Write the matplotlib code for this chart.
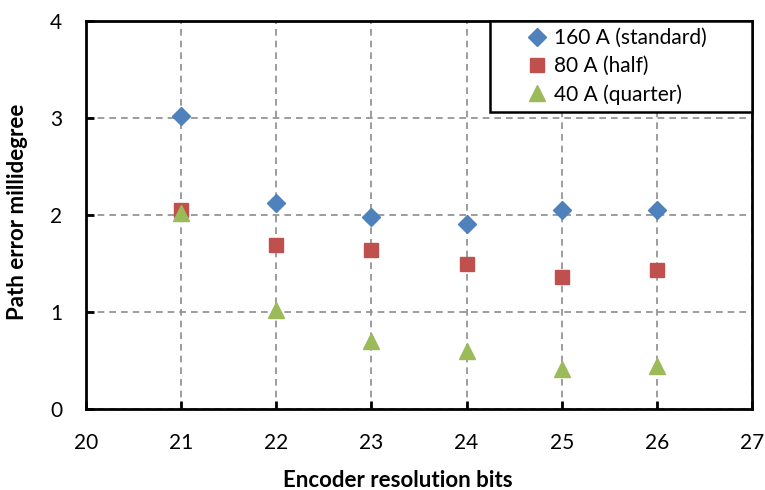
import matplotlib
matplotlib.use("Agg")
import matplotlib.pyplot as plt

plt.rcParams['font.family'] = ['Lato', 'DejaVu Sans']

bits = [21, 22, 23, 24, 25, 26]
err_160 = [3.02, 2.12, 1.98, 1.91, 2.05, 2.05]
err_80 = [2.05, 1.69, 1.64, 1.50, 1.36, 1.43]
err_40 = [2.02, 1.02, 0.70, 0.60, 0.41, 0.44]
labels = ['160 A (standard)', '80 A (half)', '40 A (quarter)']

fig = plt.figure(figsize=(7.65, 4.9), dpi=100)
# axes box: x 86..752 px, y 21..409 px
ax = fig.add_axes([86 / 765, 1 - 409 / 490, 666 / 765, 388 / 490])

ax.plot(bits, err_160, 'D', color='#4F81BD', ms=9, mec='#4F81BD', label=labels[0], zorder=3)
ax.plot(bits, err_80, 's', color='#C0504D', ms=10, mec='#C0504D', label=labels[1], zorder=3)
ax.plot(bits, err_40, '^', color='#9BBB59', ms=12, mec='#9BBB59', label=labels[2], zorder=4)

ax.set_xlim(20, 27)
ax.set_ylim(0, 4)
ax.set_xticks(range(20, 28))
ax.set_yticks(range(0, 5))
ax.grid(True, color='#8c8c8c', linestyle=(0, (4, 3)), linewidth=1.2)
ax.tick_params(direction='in', length=6, width=2, labelsize=15)
ax.tick_params(axis='x', pad=17)
ax.tick_params(axis='y', pad=17)
for s in ax.spines.values():
    s.set_linewidth(2)

ax.set_xlabel('Encoder resolution bits', fontsize=16, fontweight='bold')
ax.set_ylabel('Path error millidegree', fontsize=16, fontweight='bold')
# label anchors: top edge of the x label, right edge of the y label
ax.xaxis.set_label_coords((398 - 86) / 666, -(470 - 409) / 388)
ax.yaxis.set_label_coords(-(86 - 28) / 666, (409 - 212) / 388)

leg = ax.legend(loc='upper left', bbox_to_anchor=((490 - 86) / 666, 0, (752 - 490) / 666, 1.0),
                mode='expand', fontsize=15, frameon=True, fancybox=False,
                edgecolor='black', framealpha=1, borderaxespad=0, handletextpad=-1.1,
                borderpad=0.35, labelspacing=0.38, handlelength=3.8, numpoints=1)
leg.get_frame().set_linewidth(1.8)

fig.savefig('out.png', dpi=100)
